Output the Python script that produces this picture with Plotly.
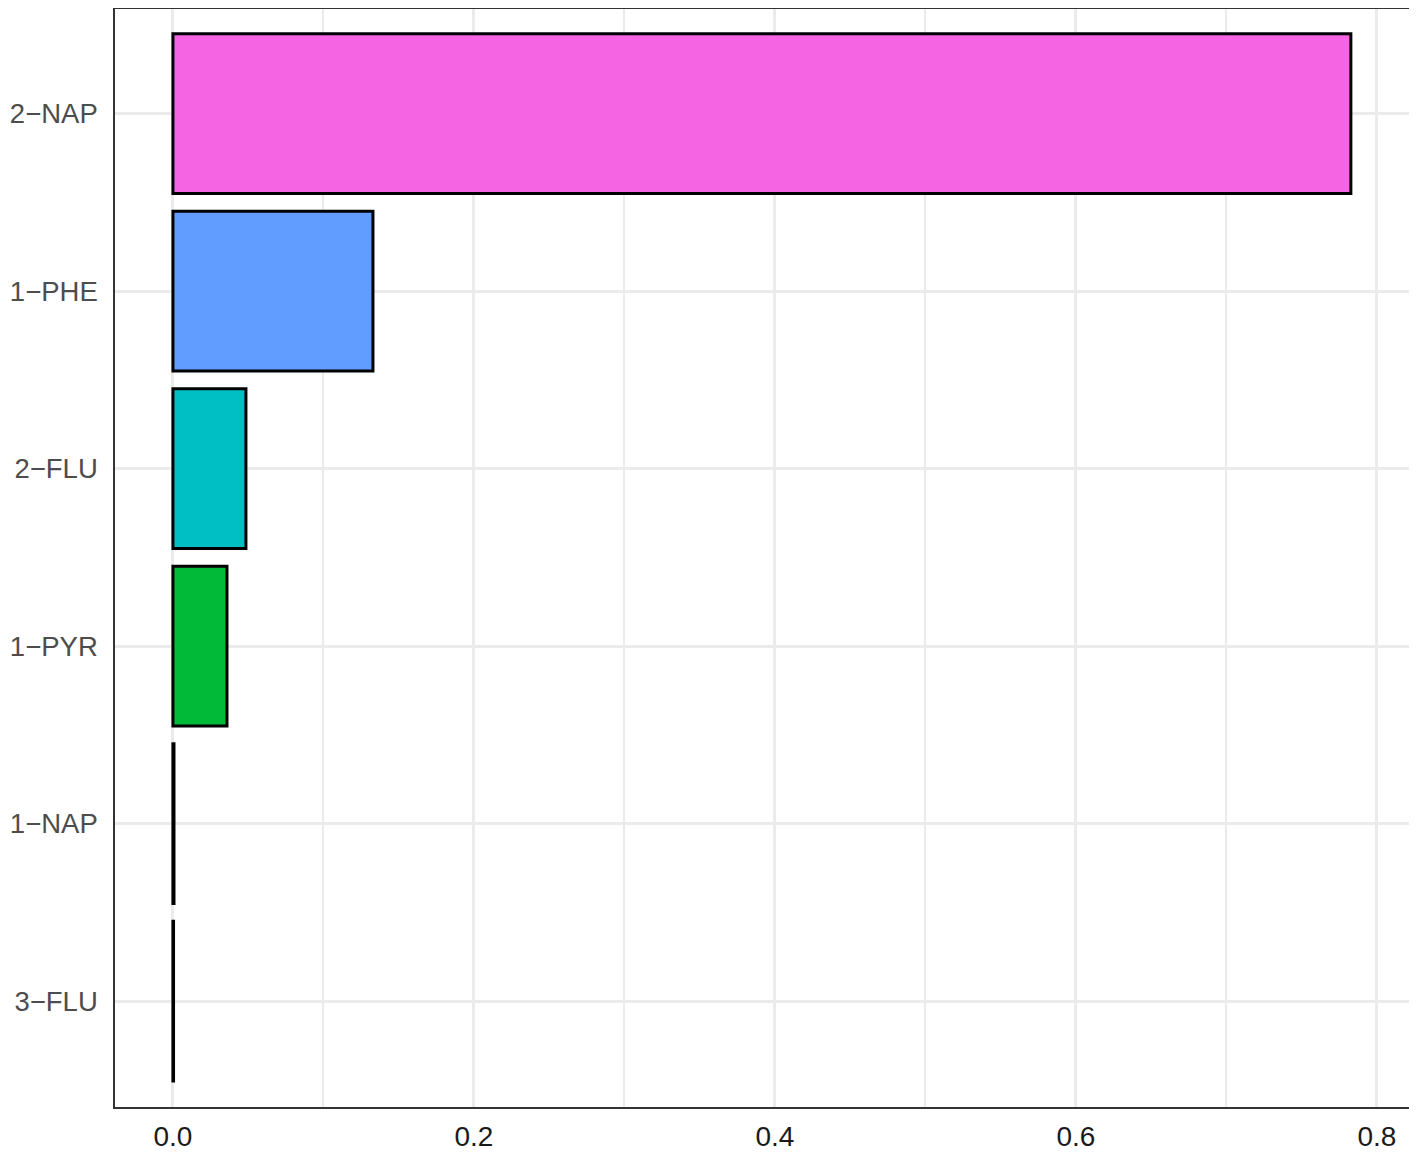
import plotly.graph_objects as go

# data
compounds = ["3\u2212FLU", "1\u2212NAP", "1\u2212PYR", "2\u2212FLU", "1\u2212PHE", "2\u2212NAP"]
importance = [0.0004, 0.0007, 0.0359, 0.0485, 0.1329, 0.7827]
bar_colors = ["#F8766D", "#B79F00", "#00BA38", "#00BFC4", "#619CFF", "#F564E3"]
x_ticks = [0.0, 0.2, 0.4, 0.6, 0.8]
x_tick_labels = ["0.0", "0.2", "0.4", "0.6", "0.8"]

fig = go.Figure()
fig.add_trace(go.Bar(
    x=importance,
    y=compounds,
    orientation="h",
    width=0.9,
    marker=dict(color=bar_colors, line=dict(color="black", width=3)),
    showlegend=False,
))

# page body adds an 8px offset, so the figure is sized a bit smaller
fig.update_layout(
    width=1409,
    height=1145,
    margin=dict(l=107, r=7, t=1, b=46),
    plot_bgcolor="white",
    paper_bgcolor="white",
    font=dict(family="Liberation Sans, Arial, sans-serif", size=28, color="#4D4D4D"),
    bargap=0.1,
)

fig.update_xaxes(
    range=[-0.0385, 0.822],
    tickvals=x_ticks,
    ticktext=x_tick_labels,
    tickfont=dict(size=28, color="#1A1A1A"),
    showgrid=True,
    gridcolor="#EBEBEB",
    gridwidth=2.5,
    minor=dict(dtick=0.1, tick0=0.1, showgrid=True, gridcolor="#EBEBEB", gridwidth=1.5),
    zeroline=False,
    showline=True,
    linecolor="#333333",
    linewidth=1.5,
    mirror=True,
    ticks="",
    ticklabelstandoff=4,
    automargin=False,
)

fig.update_yaxes(
    categoryorder="array",
    categoryarray=compounds,
    range=[-0.596, 5.59],
    tickfont=dict(size=27.5, color="#4D4D4D"),
    showgrid=True,
    gridcolor="#EBEBEB",
    gridwidth=2.5,
    zeroline=False,
    showline=True,
    linecolor="#333333",
    linewidth=1.5,
    mirror=True,
    ticks="",
    ticklabelstandoff=10,
    automargin=False,
)

fig.write_html("out.html")
